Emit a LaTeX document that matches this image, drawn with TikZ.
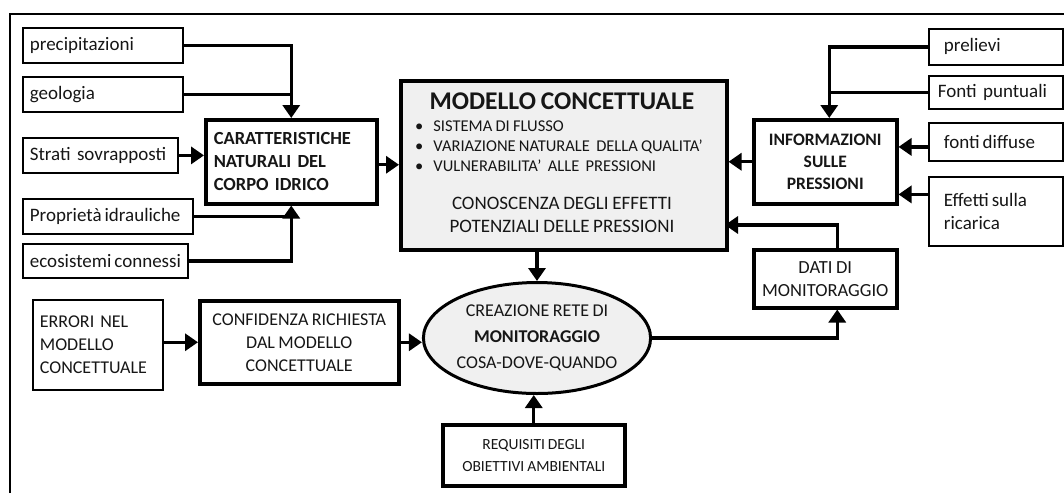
\documentclass[tikz,border=0pt]{standalone}
\usepackage{fontspec}
\setmainfont{Carlito}[WordSpace=0.85]
\usetikzlibrary{arrows.meta,shapes.geometric}
\definecolor{boxfill}{RGB}{240,240,240}
\definecolor{ink}{RGB}{22,22,22}
\begin{document}
\begin{tikzpicture}[x=1pt,y=-1pt,
  every node/.style={text=ink},
  sbox/.style={draw, line width=1.8pt, anchor=north west, inner xsep=7pt, inner ysep=0pt,
    font=\fontsize{19}{23}\selectfont, align=left},
  mbox/.style={draw, line width=3.5pt, anchor=north west, inner sep=0pt},
  arr/.style={line width=3.4pt, -{Triangle[width=17pt,length=13pt]}},
  ln/.style={line width=3.4pt}]
\useasboundingbox (0,0) rectangle (1064,493);
% outer frame (cropped)
\draw[line width=2.2pt] (10,493) -- (10,14) -- (1064,14);

% left input boxes
\node[sbox, minimum width=160pt, minimum height=35pt, text width=146pt] (prec) at (22,27) {precipitazioni};
\node[sbox, minimum width=160pt, minimum height=35pt, text width=146pt] (geo) at (22,76) {geologia};
\node[sbox, minimum width=155pt, minimum height=35pt, text width=141pt] (strati) at (22,137) {\mbox{Strati sovrapposti}};
\node[sbox, minimum width=170pt, minimum height=35pt, text width=156pt] (prop) at (22,198) {\mbox{Proprietà\hspace{3pt}idrauliche}};
\node[sbox, minimum width=165pt, minimum height=34pt, text width=151pt] (eco) at (22,243) {\mbox{ecosistemi\hspace{3pt}connessi}};

% caratteristiche
\node[mbox, minimum width=171pt, minimum height=84pt, text width=155pt, align=left,
  font=\bfseries\fontsize{18.5}{23}\selectfont] (carat) at (204,118)
  {CARATTERISTICHE\\NATURALI DEL\\CORPO IDRICO};

% modello concettuale
\node[mbox, fill=boxfill, minimum width=326pt, minimum height=169pt] (modello) at (399,79) {};
\node[inner sep=0pt, font=\bfseries\fontsize{25.5}{28}\selectfont] (mtitle) at (562,101) {MODELLO CONCETTUALE};
\node[anchor=west, inner sep=0pt, font=\fontsize{16.5}{20}\selectfont] (mlist) at (415,147)
  {\begin{tabular}{@{}l@{\hspace{10pt}}l@{}}
   \textbullet & SISTEMA DI FLUSSO\\
   \textbullet & VARIAZIONE NATURALE\ \ DELLA QUALITA’\\
   \textbullet & VULNERABILITA’\ \ ALLE\ \ PRESSIONI
   \end{tabular}};
\node[inner sep=0pt, align=center, font=\fontsize{19}{22.5}\selectfont] (mcon) at (562,215)
  {CONOSCENZA DEGLI EFFETTI\\POTENZIALI DELLE PRESSIONI};

% informazioni sulle pressioni
\node[mbox, minimum width=143pt, minimum height=84pt, align=center,
  font=\bfseries\fontsize{17.5}{22}\selectfont] (info) at (752,118)
  {INFORMAZIONI\\SULLE\\PRESSIONI};

% right input boxes
\node[sbox, inner xsep=15pt, minimum width=134pt, minimum height=36pt, text width=104pt] (prel) at (928,28) {prelievi};
\node[sbox, inner xsep=9pt, minimum width=134pt, minimum height=33pt, text width=116pt] (fpunt) at (928,75) {\mbox{Fonti puntuali}};
\node[sbox, inner xsep=15pt, minimum width=134pt, minimum height=38pt, text width=104pt] (fdiff) at (928,122) {\mbox{fonti\hspace{3pt}diffuse}};
\node[sbox, inner xsep=15pt, minimum width=134pt, minimum height=69pt, text width=104pt] (eff) at (928,176) {Effetti\hspace{3pt}sulla\\ricarica};

% dati di monitoraggio
\node[mbox, minimum width=143pt, minimum height=58pt, align=center,
  font=\fontsize{18.5}{23}\selectfont] (dati) at (752,248) {DATI DI\\MONITORAGGIO};

% bottom row
\node[sbox, minimum width=130pt, minimum height=90pt, text width=116pt,
  font=\fontsize{18}{23}\selectfont] (err) at (32,299) {ERRORI NEL\\MODELLO\\CONCETTUALE};
\node[mbox, minimum width=199pt, minimum height=83pt, align=center,
  font=\fontsize{18}{23}\selectfont] (conf) at (198,299) {CONFIDENZA RICHIESTA\\DAL MODELLO\\CONCETTUALE};
\node[draw, ellipse, line width=3pt, fill=boxfill, minimum width=203pt, minimum height=111pt,
  inner sep=0pt, align=center, font=\fontsize{18}{26}\selectfont] (ell) at (537,338)
  {CREAZIONE RETE DI\\\textbf{MONITORAGGIO}\\COSA-DOVE-QUANDO};
\node[mbox, minimum width=182pt, minimum height=61pt, align=center,
  font=\fontsize{15.5}{22}\selectfont] (req) at (441,423) {REQUISITI DEGLI\\OBIETTIVI AMBIENTALI};

% connectors left
\draw[arr] (prec.east) -| (carat.north);
\draw[ln] (geo.east) -| (carat.north |- geo.east);
\draw[arr] (strati.east) -- (carat.west |- strati.east);
\draw[arr] (eco.east) -| (carat.south);
\draw[ln] (prop.east) -| (carat.south |- prop.east);
\draw[arr] ([yshift=-3pt]carat.east) -- ([yshift=-3pt]carat.east -| modello.west);

% connectors right
\draw[arr] (prel.west) -| ([xshift=4pt]info.north);
\draw[ln] (fpunt.west) -| ([xshift=4pt]info.north |- fpunt.west);
\draw[arr] ([yshift=-5pt]fdiff.west) -- ([yshift=-5pt]fdiff.west -| info.east);
\draw[arr] ([yshift=17pt]eff.west) -- ([yshift=17pt]eff.west -| info.east);
\draw[arr] (info.west) -- (info.west -| modello.east);
\coordinate (dm) at (725,225);
\draw[arr] ([xshift=12pt]dati.north) |- (dm);

% connectors to / from ellipse
\draw[arr] (modello.south -| ell.north) -- (ell.north);
\draw[arr] (err.east |- conf.west) -- (conf.west);
\draw[arr] (conf.east) -- (conf.east -| ell.west);
\draw[arr] (req.north) -- (req.north |- ell.south);
\draw[arr] (ell.east) -| ([xshift=12pt]dati.south);
\end{tikzpicture}
\end{document}
